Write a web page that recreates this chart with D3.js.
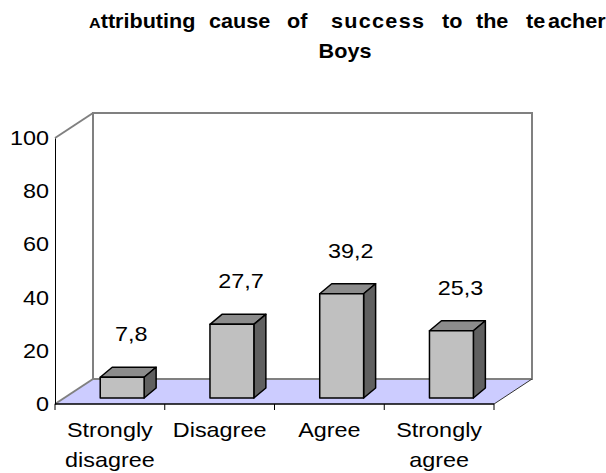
<!DOCTYPE html>
<html>
<head>
<meta charset="utf-8">
<script src="https://cdn.jsdelivr.net/npm/d3@7"></script>
<style>
  body { margin: 0; background: #fff; }
  text { font-family: "Liberation Sans", Arial, sans-serif; fill: #000; }
</style>
</head>
<body>
<div id="chart"></div>
<script>
// donnees du graphique
var categories = [["Strongly", "disagree"], ["Disagree"], ["Agree"], ["Strongly", "agree"]];
var values = [7.8, 27.7, 39.2, 25.3];
var valueLabels = ["7,8", "27,7", "39,2", "25,3"];
var yTicks = [0, 20, 40, 60, 80, 100];
var titleWords = ["Attributing", "cause", "of", "success", "to", "the", "te", "acher"];

var width = 606, height = 473;
var sx = 1.17; // le texte de l'image est etire horizontalement

// profondeur du fond (murs) et des barres
var wallDx = 38, wallDy = 25;
var barDx = 12, barDy = 10;
var barShiftX = 9, barShiftY = 6; // position des barres dans la profondeur

var svg = d3.select("#chart").append("svg")
  .attr("width", width).attr("height", height);

var x = d3.scaleBand().domain(d3.range(categories.length)).range([55, 494]);
var y = d3.scaleLinear().domain([0, 100]).range([404, 138]);

var x0 = x.range()[0], x1 = x.range()[1];
var yb = y(0), yt = y(100);

// sol
svg.append("polygon")
  .attr("points", [[x0, yb], [x0 + wallDx, yb - wallDy], [x1 + wallDx, yb - wallDy], [x1, yb]].join(" "))
  .attr("fill", "#CCCCFF");

// murs
var wall = svg.append("g").attr("stroke", "#808080").attr("stroke-width", 2).attr("fill", "none");
wall.append("rect")
  .attr("x", x0 + wallDx).attr("y", yt - wallDy)
  .attr("width", x1 - x0).attr("height", yb - yt);
wall.append("line").attr("x1", x0).attr("y1", yt).attr("x2", x0 + wallDx).attr("y2", yt - wallDy);
wall.append("line").attr("x1", x0).attr("y1", yb).attr("x2", x0 + wallDx).attr("y2", yb - wallDy);
svg.append("line").attr("x1", x1).attr("y1", yb).attr("x2", x1 + wallDx).attr("y2", yb - wallDy)
  .attr("stroke", "#333").attr("stroke-width", 1);

// barres
var bw = x.bandwidth() * 0.4;
var bars = svg.append("g").attr("stroke", "#000").attr("stroke-width", 1.5).attr("stroke-linejoin", "round");
values.forEach(function(v, i) {
  var l = x(i) + x.bandwidth() * 0.33 + barShiftX;
  var r = l + bw;
  var b = y(0) - barShiftY;
  var t = y(v) - barShiftY;
  bars.append("polygon")
    .attr("points", [[l, t], [l + barDx, t - barDy], [r + barDx, t - barDy], [r, t]].join(" "))
    .attr("fill", "#8C8C8C");
  bars.append("polygon")
    .attr("points", [[r, t], [r + barDx, t - barDy], [r + barDx, b - barDy], [r, b]].join(" "))
    .attr("fill", "#606060");
  bars.append("rect")
    .attr("x", l).attr("y", t).attr("width", bw).attr("height", b - t)
    .attr("fill", "#C0C0C0");

  svg.append("text")
    .attr("transform", "translate(" + (l + bw / 2 + barShiftX) + "," + (t - 36) + ") scale(" + sx + ",1)")
    .attr("text-anchor", "middle")
    .style("font-size", "20px")
    .text(valueLabels[i]);
});

// axe vertical
var yAxis = svg.append("g").attr("transform", "translate(" + x0 + ",0)")
  .call(d3.axisLeft(y).tickValues(yTicks).tickSize(0).tickPadding(0));
yAxis.select(".domain").attr("stroke", "#000").attr("stroke-width", 1);
yAxis.selectAll("text")
  .attr("x", null)
  .attr("transform", "translate(-6,0) scale(" + sx + ",1)")
  .style("font-size", "20px")
  .style("font-family", "'Liberation Sans', Arial, sans-serif")
  .attr("fill", "#000");

// axe horizontal
svg.append("line").attr("x1", x0).attr("y1", yb).attr("x2", x1).attr("y2", yb)
  .attr("stroke", "#000").attr("stroke-width", 1.5);
var tickPos = d3.range(categories.length).map(function(i) { return x(i); }).concat([x1]);
svg.append("g").selectAll("line").data(tickPos).enter().append("line")
  .attr("x1", function(d) { return d; }).attr("x2", function(d) { return d; })
  .attr("y1", yb).attr("y2", yb + 6)
  .attr("stroke", "#000").attr("stroke-width", 1);

categories.forEach(function(lines, i) {
  lines.forEach(function(s, k) {
    svg.append("text")
      .attr("transform", "translate(" + (x(i) + x.bandwidth() / 2) + "," + (437 + k * 30) + ") scale(" + sx + ",1)")
      .attr("text-anchor", "middle")
      .style("font-size", "20px")
      .text(s);
  });
});

// titre
var wordX = [89, 209, 287, 331, 442, 476, 526, 548];
titleWords.forEach(function(w, i) {
  var t = svg.append("text")
    .attr("transform", "translate(" + wordX[i] + ",28) scale(1.08,1)")
    .style("font-size", "20px").style("font-weight", "bold");
  if (i == 0) {
    t.append("tspan").style("font-size", "15px").text(w.charAt(0));
    t.append("tspan").text(w.substr(1));
  } else {
    t.append("tspan").attr("letter-spacing", w == "success" ? 1.2 : 0).text(w);
  }
});
svg.append("text")
  .attr("transform", "translate(345,58) scale(1.08,1)")
  .attr("text-anchor", "middle")
  .style("font-size", "20px").style("font-weight", "bold")
  .text("Boys");
</script>
</body>
</html>
